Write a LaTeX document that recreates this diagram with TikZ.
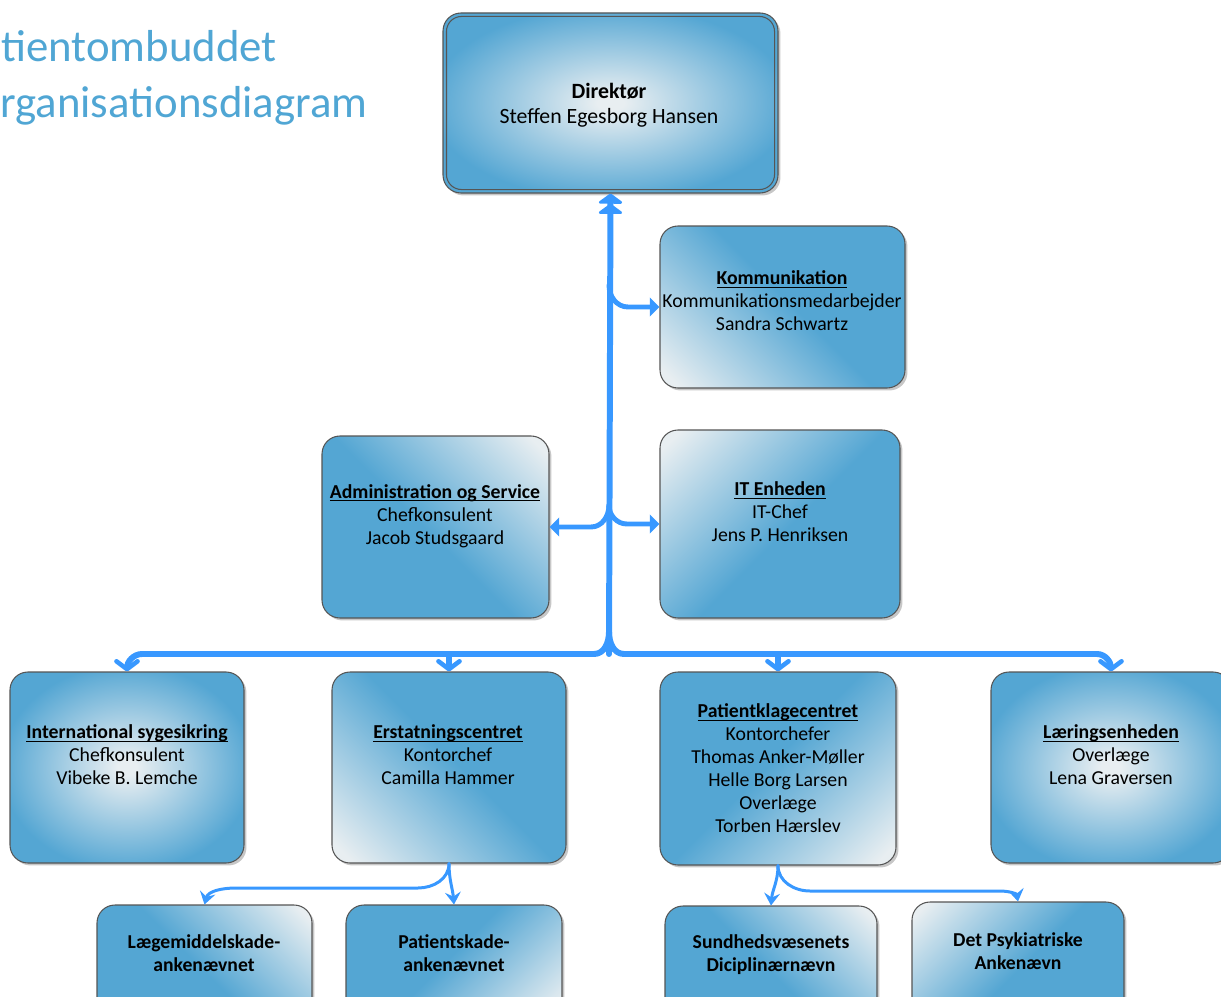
\documentclass[tikz,border=0pt]{standalone}
\usepackage{fontspec}
\setmainfont{Carlito}
\usetikzlibrary{arrows.meta,shadows,fit,calc}
\definecolor{boxblue}{RGB}{84,166,211}
\definecolor{boxlight}{RGB}{232,238,241}
\definecolor{linkblue}{RGB}{56,152,255}
\definecolor{edgegray}{RGB}{85,85,85}
\definecolor{titleblue}{RGB}{80,166,212}
\pgfdeclareradialshading{boxradial}{\pgfpoint{0bp}{0bp}}{color(0bp)=(boxlight); color(2bp)=(boxlight); color(27bp)=(boxblue); color(50bp)=(boxblue)}
\pgfdeclareverticalshading{cornerlight}{100bp}{color(0bp)=(boxlight); color(18bp)=(boxlight); color(52bp)=(boxblue); color(100bp)=(boxblue)}
\newcommand{\myul}[1]{\setbox0\hbox{#1}\rlap{\rule[-1.7pt]{\wd0}{0.55pt}}\box0}
\tikzset{
  box/.style={draw=edgegray, line width=0.6pt, rounded corners=0.36cm, inner sep=0pt,
    drop shadow={shadow xshift=1.4pt, shadow yshift=-1.4pt, fill=black, opacity=0.22}},
  radbox/.style={box, shade, shading=boxradial},
  cornbox/.style={box, shade, shading=cornerlight, shading angle=#1},
  txt/.style={align=center, inner sep=0pt, font=\fontsize{11.25pt}{13.05pt}\selectfont},
  btxt/.style={align=center, inner sep=0pt, font=\fontsize{11.2pt}{13.05pt}\selectfont\bfseries},
  link/.style={draw=linkblue, line cap=round, line join=round},
  trunkline/.style={link, line width=3.4pt},
  branchline/.style={link, line width=2.8pt},
  subline/.style={link, line width=1.7pt},
  chev/.tip={Straight Barb[length=4.5pt,width=12pt,line width=2.6pt,round]},
  stip/.tip={Triangle[length=5.5pt,width=10.5pt]},
  ltip/.tip={Stealth[length=7pt,width=9pt,inset=2.5pt]},
}
\begin{document}
\begin{tikzpicture}[x=0.02cm, y=-0.02cm]
\useasboundingbox (0,0) rectangle (1221,997);
\clip (0,0) rectangle (1221,997);

% title
\node[anchor=base west, inner sep=0pt, text=titleblue, font=\fontsize{25.5pt}{30pt}\selectfont] (title1) at (1,62) {tientombuddet};
\node[anchor=base west, inner sep=0pt, text=titleblue, font=\fontsize{25.5pt}{30pt}\selectfont] (title2) at (0,118) {rganisationsdiagram};

% boxes
\node[radbox, fit={(443,13) (778,193)}] (dir) {};
\draw[draw=edgegray, line width=0.6pt, rounded corners=0.3cm] ($(dir.north west)+(4,4)$) rectangle ($(dir.south east)+(-4,-4)$);
\node[cornbox=-45, fit={(660,226) (905,388)}] (komm) {};
\node[cornbox=-135, fit={(660,430) (900,618)}] (it) {};
\node[cornbox=135, fit={(322,436) (549,618)}] (adm) {};
\node[radbox, fit={(10,672) (244,863)}] (intl) {};
\node[cornbox=-45, fit={(332,672) (566,863)}] (erst) {};
\node[cornbox=45, fit={(660,672) (896,865)}] (patkl) {};
\node[radbox, fit={(991,672) (1231,863)}] (laer) {};
\node[cornbox=135, fit={(97,905) (312,1020)}] (laeg) {};
\node[cornbox=45, fit={(346,905) (562,1020)}] (patsk) {};
\node[cornbox=135, fit={(665,906) (877,1020)}] (sund) {};
\node[cornbox=-135, fit={(912,902) (1124,1020)}] (psyk) {};

% texts
\node[align=center, inner sep=0pt, font=\fontsize{12.4pt}{14.2pt}\selectfont] (dir-t) at (609,105) {\textbf{Direktør}\\Steffen Egesborg Hansen};
\node[txt] (komm-t) at (782,301) {\myul{\textbf{Kommunikation}}\\Kommunikationsmedarbejder\\Sandra Schwartz};
\node[txt] (it-t) at (780,512) {\myul{\textbf{IT Enheden}}\\IT-Chef\\Jens P. Henriksen};
\node[txt] (adm-t) at (435,516) {\myul{\textbf{Administration og Service}}\\Chefkonsulent\\Jacob Studsgaard};
\node[txt] (intl-t) at (127,755) {\myul{\textbf{International sygesikring}}\\Chefkonsulent\\Vibeke B. Lemche};
\node[txt] (erst-t) at (448,755) {\myul{\textbf{Erstatningscentret}}\\Kontorchef\\Camilla Hammer};
\node[txt] (patkl-t) at (778,768) {\myul{\textbf{Patientklagecentret}}\\Kontorchefer\\Thomas Anker-Møller\\Helle Borg Larsen\\Overlæge\\Torben Hærslev};
\node[txt] (laer-t) at (1111,755) {\myul{\textbf{Læringsenheden}}\\Overlæge\\Lena Graversen};
\node[btxt] (laeg-t) at (204,953) {Lægemiddelskade-\\ankenævnet};
\node[btxt] (patsk-t) at (454,953) {Patientskade-\\ankenævnet};
\node[btxt] (sund-t) at (771,955) {Sundhedsvæsenets\\Diciplinærnævn};
\node[btxt] (psyk-t) at (1018,951) {Det Psykiatriske\\Ankenævn};

% connectors
\coordinate (fork) at (609,654);
\coordinate (kj) at (609,285);
\coordinate (mj) at (609,505);
\coordinate (bj) at (609,632);
\draw[trunkline, -{Triangle[length=6pt 0 0,width=16pt 0 0,round]Triangle[length=6pt 0 0,width=16pt 0 0,round]}] (fork) -- (dir.south);
\draw[trunkline, -{chev}] (bj) to[out=-90,in=0] (594,654) -- (142,654) to[out=180,in=90] (intl.north);
\draw[trunkline, -{chev}] (bj) to[out=-90,in=180] (624,654) -- (1097,654) to[out=0,in=90] (laer.north);
\draw[trunkline, -{chev}] (449,654) -- (erst.north);
\draw[trunkline, -{chev}] (778,654) -- (patkl.north);
\draw[branchline, -{stip}] (kj) to[out=-90,in=180] (628,307) -- (komm.west);
\draw[branchline, -{stip}] (mj) to[out=-90,in=180] (627,524) -- (it.west);
\draw[branchline, -{stip}] (mj) to[out=-90,in=0] (591,527) -- (adm.east);
\draw[subline, -{ltip}] (erst.south) to[out=-90,in=95] (patsk.north);
\draw[subline, -{ltip}] (erst.south) to[out=-90,in=0] (418,888) -- (236,888) to[out=180,in=75] (laeg.north);
\draw[subline, -{ltip}] (patkl.south) to[out=-90,in=85] (sund.north);
\draw[subline, -{ltip}] (patkl.south) to[out=-90,in=180] (810,891) -- (1000,891) to[out=0,in=100] (psyk.north);
\end{tikzpicture}
\end{document}
